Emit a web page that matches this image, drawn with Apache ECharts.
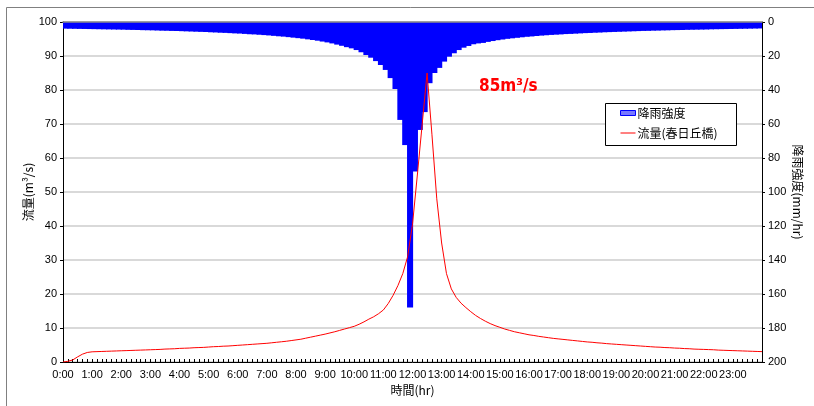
<!DOCTYPE html>
<html>
<head>
<meta charset="utf-8">
<script src="https://cdn.jsdelivr.net/npm/echarts@6/dist/echarts.min.js"></script>
<style>
  html, body { margin: 0; padding: 0; background: #fff; }
  #chart { width: 814px; height: 406px; }
</style>
</head>
<body>
<div id="chart"></div>
<script>
// Rainfall intensity (mm/hr), one value per 10-minute block, 0:00 - 24:00
const rain = [
  3.9, 3.95, 4.0, 4.05, 4.1, 4.15, 4.2, 4.25, 4.3, 4.35, 4.4, 4.45,
  4.5, 4.6, 4.65, 4.7, 4.8, 4.85, 4.9, 5.0, 5.1, 5.15, 5.25, 5.3,
  5.4, 5.5, 5.6, 5.7, 5.8, 5.9, 6.05, 6.15, 6.3, 6.4, 6.55, 6.7,
  6.8, 7.0, 7.2, 7.3, 7.5, 7.7, 7.9, 8.15, 8.4, 8.6, 8.9, 9.2,
  9.5, 9.8, 10.2, 10.6, 11.0, 11.5, 12.0, 12.6, 13.3, 14, 14.8, 15.5,
  16.5, 17.8, 19.4, 21, 23, 25.3, 28.2, 33, 39.4, 57.6, 72.4, 168,
  88, 63.5, 53, 36, 30, 27, 23.3, 20.4, 18.4, 16.5, 15.1, 14.1,
  13.1, 12.6, 12.3, 11.7, 11.2, 10.7, 10.3, 9.9, 9.6, 9.3, 9.0, 8.7,
  8.5, 8.25, 8.0, 7.8, 7.6, 7.45, 7.3, 7.1, 7.0, 6.85, 6.7, 6.55,
  6.45, 6.3, 6.2, 6.05, 5.95, 5.85, 5.75, 5.65, 5.55, 5.45, 5.35, 5.25,
  5.2, 5.1, 5.05, 4.95, 4.9, 4.8, 4.75, 4.7, 4.6, 4.55, 4.5, 4.45,
  4.4, 4.3, 4.25, 4.2, 4.15, 4.1, 4.05, 4.0, 3.95, 3.9, 3.85, 3.8
];

// Discharge at 春日丘橋 (m³/s), sampled every 10 minutes, 0:00 - 24:00
const flow = [
  0, 0.2, 0.6, 1.5, 2.3, 2.8,
  3.0, 3.05, 3.1, 3.15, 3.2, 3.25,
  3.3, 3.35, 3.4, 3.45, 3.5, 3.55,
  3.6, 3.65, 3.7, 3.8, 3.85, 3.9,
  4.0, 4.05, 4.1, 4.2, 4.25, 4.3,
  4.4, 4.5, 4.55, 4.65, 4.7, 4.8,
  4.9, 5.0, 5.1, 5.2, 5.3, 5.4,
  5.5, 5.65, 5.8, 5.95, 6.1, 6.3,
  6.5, 6.7, 7.0, 7.3, 7.6, 7.9,
  8.2, 8.55, 8.9, 9.3, 9.7, 10.1,
  10.5, 11.1, 11.8, 12.6, 13.3, 14.2,
  15.3, 17.2, 19.6, 22.5, 26, 31,
  40.5, 55, 70, 85, 67, 48,
  35, 26, 21.5, 19, 17.3, 16,
  14.8, 13.7, 12.8, 12.0, 11.3, 10.7,
  10.2, 9.7, 9.3, 8.9, 8.6, 8.3,
  8.0, 7.8, 7.55, 7.35, 7.15, 6.95,
  6.8, 6.65, 6.5, 6.35, 6.2, 6.05,
  5.9, 5.8, 5.65, 5.55, 5.4, 5.3,
  5.2, 5.1, 5.0, 4.9, 4.8, 4.7,
  4.6, 4.5, 4.4, 4.35, 4.25, 4.2,
  4.1, 4.05, 3.95, 3.9, 3.8, 3.75,
  3.7, 3.65, 3.6, 3.5, 3.45, 3.4,
  3.35, 3.3, 3.25, 3.2, 3.15, 3.1,
  3.05
];

// Hour labels along the time axis
const hourLabels = [
  '0:00', '1:00', '2:00', '3:00', '4:00', '5:00', '6:00', '7:00',
  '8:00', '9:00', '10:00', '11:00', '12:00', '13:00', '14:00', '15:00',
  '16:00', '17:00', '18:00', '19:00', '20:00', '21:00', '22:00', '23:00'
];

const STEP_MIN = 10;
const NUM_FONT = "'Liberation Sans', Arial, 'Noto Sans CJK JP', sans-serif";
const JP_FONT = "'Noto Sans CJK JP', 'Liberation Sans', sans-serif";

const slots = rain.map((_, i) => String(i * STEP_MIN));
const flowPoints = flow.map((v, i) => [i * STEP_MIN, v]);

const chart = echarts.init(document.getElementById('chart'), null, { renderer: 'canvas' });

const option = {
  animation: false,
  backgroundColor: '#ffffff',
  grid: { left: 63, top: 22, width: 699, height: 340, containLabel: false },
  legend: {
    orient: 'vertical',
    left: 620,
    top: 107,
    padding: 0,
    itemGap: 8,
    itemWidth: 15,
    itemHeight: 5,
    z: 10,
    textStyle: { fontFamily: JP_FONT, fontSize: 12, color: '#000', padding: [0, 0, 0, -3] },
    data: [
      { name: '降雨強度', icon: 'rect',
        itemStyle: { color: '#7878ff', borderColor: '#0000ff', borderWidth: 1 } },
      { name: '流量(春日丘橋)', icon: 'path://M0,0h15v1h-15z',
        itemStyle: { color: '#ff0000' } }
    ]
  },
  xAxis: [
    {
      type: 'value',
      min: 0,
      max: 1440,
      interval: 60,
      position: 'bottom',
      name: '時間(hr)',
      nameLocation: 'middle',
      nameGap: 22,
      nameMoveOverlap: false,
      nameTextStyle: { fontFamily: JP_FONT, fontSize: 12, color: '#000' },
      axisLine: { show: true, lineStyle: { color: '#000', width: 1 } },
      axisTick: { show: true, inside: true, length: 3, lineStyle: { color: '#000' } },
      minorTick: { show: true, splitNumber: 6, length: 3, lineStyle: { color: '#000' } },
      axisLabel: {
        fontFamily: NUM_FONT, fontSize: 11, color: '#000', margin: 7,
        formatter: (v) => hourLabels[v / 60] || ''
      },
      splitLine: { show: false }
    },
    {
      type: 'category',
      data: slots,
      position: 'top',
      boundaryGap: true,
      z: 5,
      axisLine: { show: true, lineStyle: { color: '#8c8c8c', width: 1.5 } },
      axisTick: { show: false },
      axisLabel: { show: false },
      splitLine: { show: false }
    }
  ],
  yAxis: [
    {
      type: 'value',
      min: 0,
      max: 100,
      interval: 10,
      position: 'left',
      name: '流量(m³/s)',
      nameLocation: 'middle',
      nameRotate: 90,
      nameGap: 29,
      nameMoveOverlap: false,
      nameTextStyle: { fontFamily: JP_FONT, fontSize: 12, color: '#000' },
      axisLine: { show: true, lineStyle: { color: '#000', width: 1 } },
      axisTick: { show: true, length: 3, lineStyle: { color: '#000' } },
      axisLabel: { fontFamily: NUM_FONT, fontSize: 11, color: '#000', margin: 6 },
      splitLine: { show: true, lineStyle: { color: '#d9d9d9', width: 2 } }
    },
    {
      type: 'value',
      min: 0,
      max: 200,
      interval: 20,
      inverse: true,
      position: 'right',
      name: '降雨強度(mm/hr)',
      nameLocation: 'middle',
      nameRotate: -90,
      nameGap: 30,
      nameMoveOverlap: false,
      nameTextStyle: { fontFamily: JP_FONT, fontSize: 12, color: '#000' },
      axisLine: { show: true, lineStyle: { color: '#000', width: 1 } },
      axisTick: { show: true, length: 3, lineStyle: { color: '#000' } },
      axisLabel: { fontFamily: NUM_FONT, fontSize: 11, color: '#000', margin: 6 },
      splitLine: { show: false }
    }
  ],
  series: [
    {
      name: '降雨強度',
      type: 'bar',
      xAxisIndex: 1,
      yAxisIndex: 1,
      data: rain,
      barWidth: '125%',
      barGap: '-100%',
      itemStyle: { color: '#0000ff' }
    },
    {
      name: '流量(春日丘橋)',
      type: 'line',
      xAxisIndex: 0,
      yAxisIndex: 0,
      data: flowPoints,
      symbol: 'none',
      smooth: false,
      lineStyle: { color: '#ff0000', width: 1 },
      itemStyle: { color: '#ff0000' }
    }
  ],
  graphic: [
    {
      id: 'frame',
      type: 'rect',
      silent: true,
      z: 0,
      shape: { x: 6.5, y: 7.5, width: 1000, height: 1000 },
      style: { fill: 'none', stroke: '#808080', lineWidth: 1 }
    },
    {
      id: 'legendBox',
      type: 'rect',
      silent: true,
      z: 5,
      shape: { x: 605.5, y: 103.5, width: 131, height: 42 },
      style: { fill: '#ffffff', stroke: '#000000', lineWidth: 1 }
    }
  ]
};

chart.setOption(option);

// Peak discharge callout, placed to the right of the hydrograph peak
const peak = Math.max(...flow);
const peakIdx = flow.indexOf(peak);
const peakPx = chart.convertToPixel({ xAxisIndex: 0, yAxisIndex: 0 }, [peakIdx * STEP_MIN, peak]);
chart.setOption({
  graphic: [
    {
      id: 'peakLabel',
      type: 'text',
      silent: true,
      z: 10,
      x: peakPx[0] + 52,
      y: peakPx[1] + 14,
      style: {
        text: peak + 'm³/s',
        fill: '#ff0000',
        font: "bold 17px 'DejaVu Sans Condensed', 'DejaVu Sans', sans-serif",
        verticalAlign: 'middle',
        align: 'left'
      }
    }
  ]
});
</script>
</body>
</html>
